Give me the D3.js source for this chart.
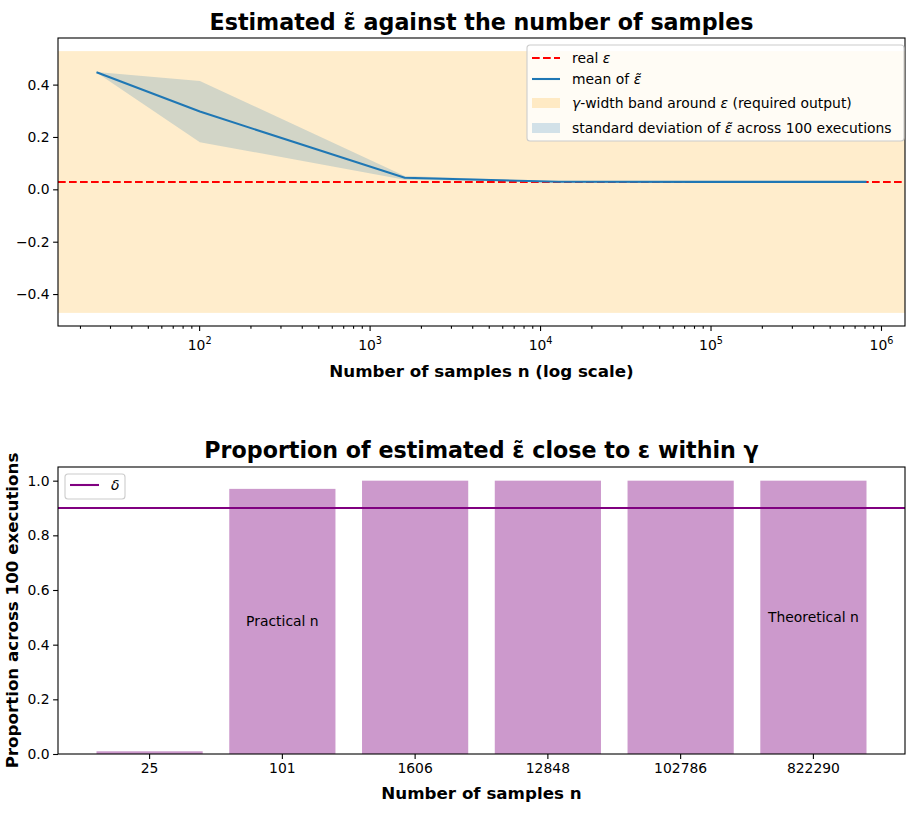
<!DOCTYPE html>
<html>
<head>
<meta charset="utf-8">
<script src="https://cdn.jsdelivr.net/npm/d3@7"></script>
<style>
    body { margin: 0; background: #fff; }
    svg { font-family: "DejaVu Sans", sans-serif; }
    .tick text { font-family: "DejaVu Sans", sans-serif; font-size: 13.9px; fill: #000; }
    .axis path, .axis line { stroke: #000; stroke-width: 1.1px; }
</style>
</head>
<body>
<svg width="922" height="815"></svg>
<script>
// Data
var nSamples = [25, 101, 1606, 12848, 102786, 822290];
var meanEps = [0.447, 0.297, 0.044, 0.029, 0.0285, 0.0285];
var stdEps = [0.001, 0.117, 0.007, 0.0012, 0.0006, 0.0004];
var realEps = 0.028;
var gamma = 0.5;
var proportion = [0.01, 0.97, 1.0, 1.0, 1.0, 1.0];
var delta = 0.9;
var yTicksTop = [-0.4, -0.2, 0.0, 0.2, 0.4];
var yTicksBottom = [0.0, 0.2, 0.4, 0.6, 0.8, 1.0];
var barNotes = [{i: 1, text: 'Practical n'}, {i: 5, text: 'Theoretical n'}];

var svg = d3.select('svg');
var left = 58, right = 905;
var top1 = {t: 38, b: 326};
var top2 = {t: 467, b: 754};

var orange = 'orange', tabBlue = '#1f77b4', purple = 'purple';
var fmt = function(d) { return d3.format('.1f')(d).replace('-', '\u2212'); };

// ---------- top chart ----------
var logMin = Math.log10(d3.min(nSamples)), logMax = Math.log10(d3.max(nSamples));
var lpad = (logMax - logMin) * 0.05;
var xLog = d3.scaleLog()
    .domain([Math.pow(10, logMin - lpad), Math.pow(10, logMax + lpad)])
    .range([left, right]);
var yLo = realEps - gamma, yHi = realEps + gamma;
var ypad = (yHi - yLo) * 0.05;
var yTop = d3.scaleLinear()
    .domain([yLo - ypad, yHi + ypad])
    .range([top1.b, top1.t]);

var g1 = svg.append('g');

// gamma band around epsilon
g1.append('rect')
    .attr('x', left).attr('width', right - left)
    .attr('y', yTop(yHi)).attr('height', yTop(yLo) - yTop(yHi))
    .attr('fill', orange).attr('fill-opacity', 0.2);

var rows = nSamples.map(function(n, i) {
    return {n: n, m: meanEps[i], s: stdEps[i]};
});

g1.append('path')
    .datum(rows)
    .attr('fill', tabBlue).attr('fill-opacity', 0.2)
    .attr('d', d3.area()
        .x(function(d) { return xLog(d.n); })
        .y0(function(d) { return yTop(d.m - d.s); })
        .y1(function(d) { return yTop(d.m + d.s); }));

g1.append('line')
    .attr('x1', left).attr('x2', right)
    .attr('y1', yTop(realEps)).attr('y2', yTop(realEps))
    .attr('stroke', 'red').attr('stroke-width', 2.08)
    .attr('stroke-dasharray', '7.7,3.3');

g1.append('path')
    .datum(rows)
    .attr('fill', 'none').attr('stroke', tabBlue).attr('stroke-width', 2.08)
    .attr('d', d3.line()
        .x(function(d) { return xLog(d.n); })
        .y(function(d) { return yTop(d.m); }));

// axes
var yAxis1 = g1.append('g').attr('class', 'axis')
    .attr('transform', 'translate(' + left + ',0)')
    .call(d3.axisLeft(yTop).tickValues(yTicksTop).tickFormat(fmt).tickSize(4.9).tickPadding(3.5));
yAxis1.select('.domain').remove();

var majors = [1e2, 1e3, 1e4, 1e5, 1e6];
var minors = [];
[1, 2, 3, 4, 5, 6].forEach(function(p) {
    for (var k = 2; k <= 9; k++) {
        var v = k * Math.pow(10, p);
        if (v >= xLog.domain()[0] && v <= xLog.domain()[1]) minors.push(v);
    }
});
var xAxis1 = g1.append('g').attr('class', 'axis')
    .attr('transform', 'translate(0,' + top1.b + ')')
    .call(d3.axisBottom(xLog).tickValues(minors).tickFormat('').tickSize(2.8));
xAxis1.select('.domain').remove();
var xAxis1b = g1.append('g').attr('class', 'axis')
    .attr('transform', 'translate(0,' + top1.b + ')')
    .call(d3.axisBottom(xLog).tickValues(majors).tickFormat('').tickSize(4.9));
xAxis1b.select('.domain').remove();
xAxis1b.selectAll('.tick').append('text')
    .attr('y', 24).attr('text-anchor', 'middle').attr('fill', '#000')
    .each(function(d) {
        var t = d3.select(this);
        t.append('tspan').text('10');
        t.append('tspan').attr('dy', -6).style('font-size', '9.7px')
            .text(Math.round(Math.log10(d)));
    });

g1.append('rect')
    .attr('x', left).attr('y', top1.t)
    .attr('width', right - left).attr('height', top1.b - top1.t)
    .attr('fill', 'none').attr('stroke', '#000').attr('stroke-width', 1.1);

g1.append('text')
    .attr('x', (left + right) / 2).attr('y', 30)
    .attr('text-anchor', 'middle')
    .style('font-size', '22.2px').style('font-weight', 'bold')
    .text('Estimated \u03b5\u0303 against the number of samples');

g1.append('text')
    .attr('x', (left + right) / 2).attr('y', 377)
    .attr('text-anchor', 'middle')
    .style('font-size', '16.7px').style('font-weight', 'bold')
    .text('Number of samples n (log scale)');

// legend for the top chart
var leg1 = g1.append('g').attr('transform', 'translate(527,45)');
leg1.append('rect')
    .attr('width', 377).attr('height', 96).attr('rx', 3)
    .attr('fill', '#fff').attr('fill-opacity', 0.8)
    .attr('stroke', '#cccccc').attr('stroke-width', 1.1);
var legRows = [
    {y: 13, kind: 'dash', parts: [['real ', false], ['\u03b5', true]]},
    {y: 34, kind: 'line', parts: [['mean of ', false], ['\u03b5\u0303', true]]},
    {y: 58, kind: 'orange', parts: [['\u03b3', true], ['-width band around ', false], ['\u03b5', true], [' (required output)', false]]},
    {y: 83, kind: 'blue', parts: [['standard deviation of ', false], ['\u03b5\u0303', true], [' across 100 executions', false]]}
];
legRows.forEach(function(r) {
    if (r.kind === 'dash' || r.kind === 'line') {
        leg1.append('line')
            .attr('x1', 5).attr('x2', 33).attr('y1', r.y).attr('y2', r.y)
            .attr('stroke', r.kind === 'dash' ? 'red' : tabBlue).attr('stroke-width', 2.08)
            .attr('stroke-dasharray', r.kind === 'dash' ? '7.7,3.3' : null);
    } else {
        leg1.append('rect')
            .attr('x', 5).attr('width', 28).attr('y', r.y - 5).attr('height', 10)
            .attr('fill', r.kind === 'orange' ? orange : tabBlue).attr('fill-opacity', 0.2);
    }
    var t = leg1.append('text').attr('x', 45).attr('y', r.y + 5)
        .style('font-size', '13.9px');
    r.parts.forEach(function(p) {
        t.append('tspan').style('font-style', p[1] ? 'italic' : 'normal').text(p[0]);
    });
});

// ---------- bottom chart ----------
var xBand = d3.scaleBand()
    .domain(nSamples.map(String))
    .range([left, right])
    .paddingInner(0.2).paddingOuter(0.29);
var yBot = d3.scaleLinear()
    .domain([0, 1.05])
    .range([top2.b, top2.t]);

var g2 = svg.append('g');

g2.selectAll('.bar').data(proportion).enter()
    .append('rect').attr('class', 'bar')
    .attr('x', function(d, i) { return xBand(String(nSamples[i])); })
    .attr('width', xBand.bandwidth())
    .attr('y', function(d) { return yBot(d); })
    .attr('height', function(d) { return yBot(0) - yBot(d); })
    .attr('fill', purple).attr('fill-opacity', 0.4);

g2.append('line')
    .attr('x1', left).attr('x2', right)
    .attr('y1', yBot(delta)).attr('y2', yBot(delta))
    .attr('stroke', purple).attr('stroke-width', 2.08);

g2.selectAll('.note').data(barNotes).enter()
    .append('text').attr('class', 'note')
    .attr('x', function(d) { return xBand(String(nSamples[d.i])) + xBand.bandwidth() / 2; })
    .attr('y', function(d) { return yBot(proportion[d.i] / 2); })
    .attr('dy', '0.35em')
    .attr('text-anchor', 'middle')
    .style('font-size', '13.9px')
    .text(function(d) { return d.text; });

var yAxis2 = g2.append('g').attr('class', 'axis')
    .attr('transform', 'translate(' + left + ',0)')
    .call(d3.axisLeft(yBot).tickValues(yTicksBottom).tickFormat(fmt).tickSize(4.9).tickPadding(3.5));
yAxis2.select('.domain').remove();

var xAxis2 = g2.append('g').attr('class', 'axis')
    .attr('transform', 'translate(0,' + top2.b + ')')
    .call(d3.axisBottom(xBand).tickSize(4.9).tickPadding(4));
xAxis2.select('.domain').remove();

g2.append('rect')
    .attr('x', left).attr('y', top2.t)
    .attr('width', right - left).attr('height', top2.b - top2.t)
    .attr('fill', 'none').attr('stroke', '#000').attr('stroke-width', 1.1);

g2.append('text')
    .attr('x', (left + right) / 2).attr('y', 458)
    .attr('text-anchor', 'middle')
    .style('font-size', '22.2px').style('font-weight', 'bold')
    .text('Proportion of estimated \u03b5\u0303 close to \u03b5 within \u03b3');

g2.append('text')
    .attr('x', (left + right) / 2).attr('y', 799)
    .attr('text-anchor', 'middle')
    .style('font-size', '16.7px').style('font-weight', 'bold')
    .text('Number of samples n');

g2.append('text')
    .attr('transform', 'translate(18,' + ((top2.t + top2.b) / 2) + ') rotate(-90)')
    .attr('text-anchor', 'middle')
    .style('font-size', '16.7px').style('font-weight', 'bold')
    .text('Proportion across 100 executions');

// legend for the bottom chart
var leg2 = g2.append('g').attr('transform', 'translate(65,474)');
leg2.append('rect')
    .attr('width', 60).attr('height', 25).attr('rx', 3)
    .attr('fill', '#fff').attr('fill-opacity', 0.8)
    .attr('stroke', '#cccccc').attr('stroke-width', 1.1);
leg2.append('line')
    .attr('x1', 5).attr('x2', 34).attr('y1', 11).attr('y2', 11)
    .attr('stroke', purple).attr('stroke-width', 2.08);
leg2.append('text')
    .attr('x', 46).attr('y', 16)
    .style('font-size', '13.9px').style('font-style', 'italic')
    .text('\u03b4');
</script>
</body>
</html>
